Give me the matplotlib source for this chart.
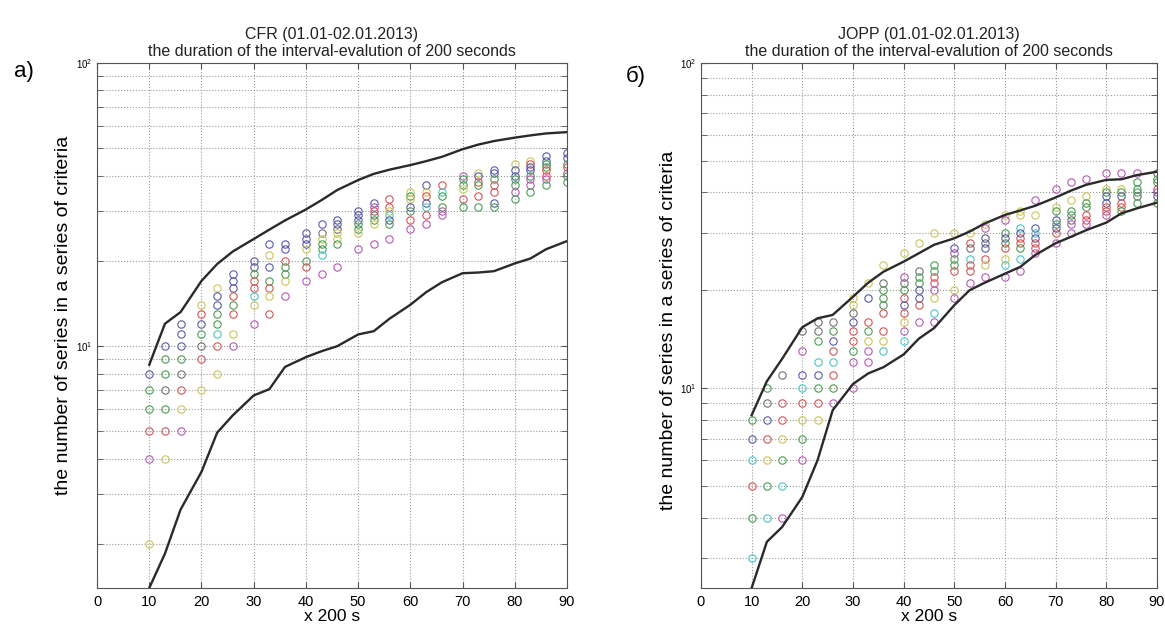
import matplotlib.pyplot as plt
from matplotlib.ticker import NullFormatter

plt.rcParams['font.family'] = ['Liberation Sans', 'DejaVu Sans']

# x positions (in units of 200 s) shared by both panels
x_pts = [10, 13, 16, 20, 23, 26, 30, 33, 36, 40, 43, 46, 50, 53, 56,
         60, 63, 66, 70, 73, 76, 80, 83, 86, 90]

# ---- panel a) CFR ----
cfr_upper = [8.6, 12.0, 13.2, 17.0, 19.5, 21.6, 23.9, 25.8, 27.8, 30.4, 32.8, 35.6, 38.6,
             40.6, 42.0, 43.6, 45.0, 46.6, 49.6, 51.5, 53.0, 54.5, 55.5, 56.4, 57.0]
cfr_lower = [1.4, 1.85, 2.65, 3.6, 4.95, 5.7, 6.7, 7.05, 8.45, 9.15, 9.6, 10.0, 11.0,
             11.3, 12.5, 14.0, 15.5, 16.8, 18.1, 18.2, 18.4, 19.6, 20.4, 22.0, 23.5]
cfr_vals = [
    [8, 7, 6, 5, 4, 2],
    [10, 9, 8, 7, 6, 5, 4],
    [12, 11, 10, 9, 8, 7, 6, 5],
    [14, 13, 12, 11, 10, 9, 7],
    [16, 15, 14, 13, 12, 11, 10, 8],
    [18, 17, 16, 15, 14, 13, 11, 10],
    [20, 19, 18, 17, 16, 15, 14, 12],
    [23, 21, 19, 17, 16, 15, 13],
    [23, 22, 20, 19, 18, 17, 15],
    [25, 24, 23, 22, 20, 19, 17],
    [27, 25, 24, 23, 22, 21, 18],
    [28, 27, 26, 25, 24, 23, 19],
    [30, 29, 28, 27, 26, 25, 22],
    [32, 31, 30, 29, 28, 27, 23],
    [33, 31, 30, 29, 28, 27, 24],
    [35, 34, 33, 31, 30, 28, 26],
    [37, 35, 34, 32, 31, 29, 27],
    [37, 35, 34, 31, 30, 29],
    [40, 39, 37, 36, 33, 31],
    [41, 40, 38, 37, 34, 31],
    [42, 41, 39, 37, 35, 32, 31],
    [44, 42, 40, 39, 37, 35, 33],
    [45, 44, 43, 42, 40, 39, 37, 35],
    [47, 45, 44, 43, 42, 40, 39, 37],
    [48, 46, 44, 43, 41, 40, 38],
]
cfr_cols = ['bggrmy', 'bggkgry', 'bbbgkrym', 'yrbgkry', 'ybbggcry', 'bbbrgrym',
            'bbgrrcym', 'bybgryr', 'bbrggym', 'bbbygrm', 'bkyggcm', 'bbkyygm',
            'bbbggym', 'bmrkgym', 'rrycbgm', 'ygybgrm', 'byrbcrm', 'rcggmm',
            'mggyrg', 'ybrgrg', 'bbgrrbg', 'ybbggmg', 'yrbbgmmg', 'bbggrrmg', 'bbgrmgg']

# ---- panel б) JOPP ----
jopp_upper = [8.26, 10.5, 12.3, 15.4, 16.4, 16.8, 19.1, 21.1, 22.8, 24.5, 26.0, 27.6, 28.9,
              30.3, 32.1, 34.1, 35.2, 36.4, 38.6, 40.5, 42.2, 43.7, 43.9, 45.2, 46.3]
jopp_lower = [2.43, 3.37, 3.74, 4.63, 6.0, 8.56, 10.3, 11.1, 11.6, 12.7, 14.2, 15.3, 18.0,
              20.0, 21.1, 22.5, 23.6, 25.7, 27.9, 29.2, 30.6, 32.3, 34.5, 35.7, 37.2]
jopp_vals = [
    [8, 7, 6, 5, 4, 3],
    [10, 9, 8, 7, 6, 5, 4],
    [11, 9, 8, 7, 6, 5, 4],
    [15, 13, 11, 10, 9, 8, 7, 6],
    [16, 15, 14, 12, 11, 10, 9, 8],
    [16, 15, 14, 13, 12, 11, 10, 9],
    [19, 18, 17, 16, 15, 14, 13, 12, 10],
    [21, 19, 16, 15, 14, 13, 12],
    [24, 21, 20, 19, 18, 17, 15, 14, 13],
    [26, 22, 21, 20, 19, 18, 17, 16, 15, 14],
    [28, 23, 22, 21, 20, 19, 18, 16],
    [30, 24, 23, 22, 21, 20, 19, 17, 16],
    [30, 27, 26, 25, 24, 23, 20, 19],
    [30, 28, 27, 25, 24, 23, 21],
    [32, 31, 29, 28, 27, 25, 24, 22],
    [34, 33, 30, 29, 28, 27, 25, 24, 22],
    [35, 34, 31, 30, 29, 28, 27, 25, 23],
    [38, 34, 31, 30, 29, 28, 27, 26],
    [41, 36, 35, 33, 32, 31, 30, 28],
    [43, 38, 35, 34, 33, 32, 30],
    [44, 39, 37, 36, 34, 33, 32],
    [46, 41, 40, 39, 37, 36, 35, 34],
    [46, 41, 40, 39, 37, 36, 35],
    [46, 43, 41, 40, 39, 37],
    [46, 44, 43, 41, 40, 39, 37],
]
jopp_cols = ['gbcrgc', 'gkbrygc', 'krrygcm', 'kmbcrygm', 'kkgcbgry', 'kgbrcrgm',
             'yykbrrgmm', 'ybrgymm', 'ykgggrryc', 'ymkgrbrymc', 'ykggbbrm', 'yggrrmycm',
             'ybmggrym', 'yrkcrrm', 'ymbkbrym', 'ymgbgrycm', 'yycbrrgcm', 'mybcbrrm',
             'mygbgbrm', 'myggkmm', 'myggrrm', 'mygbbrrm', 'mygbrrg', 'mgggkg', 'kggrmbg']

colour = {'b': '#5a5aaa', 'g': '#4a9e52', 'r': '#d45656', 'c': '#4cc6c6',
          'm': '#b658b6', 'y': '#cbc556', 'k': '#727272'}

fig = plt.figure(figsize=(11.65, 6.28), dpi=100)
ax1 = fig.add_axes([0.0833, 0.0637, 0.4034, 0.836])
ax2 = fig.add_axes([0.6017, 0.0637, 0.3914, 0.836])

panels = [
    (ax1, cfr_upper, cfr_lower, cfr_vals, cfr_cols, 1.4, 'CFR (01.01-02.01.2013)', -0.053, 0.52),
    (ax2, jopp_upper, jopp_lower, jopp_vals, jopp_cols, 2.43, 'JOPP (01.01-02.01.2013)', -0.052, 0.49),
]

for ax, up, lo, vals, cols, ymin, name, ylab_x, ylab_y in panels:
    for x, vs, cs in zip(x_pts, vals, cols):
        for v, c in zip(vs, cs):
            ax.plot(x, v, 'o', ms=5.3, mfc='none', mec=colour[c], mew=0.8)
    ax.plot(x_pts, up, color='#2a2a2a', lw=1.7)
    ax.plot(x_pts, lo, color='#2a2a2a', lw=1.7)

    ax.set_yscale('log')
    ax.set_xlim(0, 90)
    ax.set_ylim(ymin, 100)
    ax.set_xticks(range(0, 91, 10))
    ax.yaxis.set_minor_formatter(NullFormatter())
    ax.tick_params(which='both', direction='in', top=True, right=True,
                   color='#555555', length=4)
    ax.tick_params(axis='x', labelsize=10.5, pad=5)
    ax.tick_params(axis='y', labelsize=7, pad=3)
    ax.xaxis.grid(True, which='major', linestyle=':', color='#999999', lw=0.8)
    ax.yaxis.grid(True, which='both', linestyle=':', color='#999999', lw=0.8)
    for s in ax.spines.values():
        s.set_color('#555555')
        s.set_linewidth(0.8)

    ax.set_title(name + '\nthe duration of the interval-evalution of 200 seconds',
                 fontsize=11.5, pad=5, color='#222222')
    ax.set_xlabel('x 200 s', fontsize=12.5)
    ax.xaxis.set_label_coords(0.5, -0.04)
    ax.set_ylabel('the number of series in a series of criteria', fontsize=14)
    ax.yaxis.set_label_coords(ylab_x, ylab_y)

fig.text(24 / 1165, 1 - 72 / 628, 'а)', fontsize=16, ha='center', va='center')
fig.text(636 / 1165, 1 - 76 / 628, 'б)', fontsize=16, ha='center', va='center')

fig.savefig('out.png', dpi=100, facecolor='white')
